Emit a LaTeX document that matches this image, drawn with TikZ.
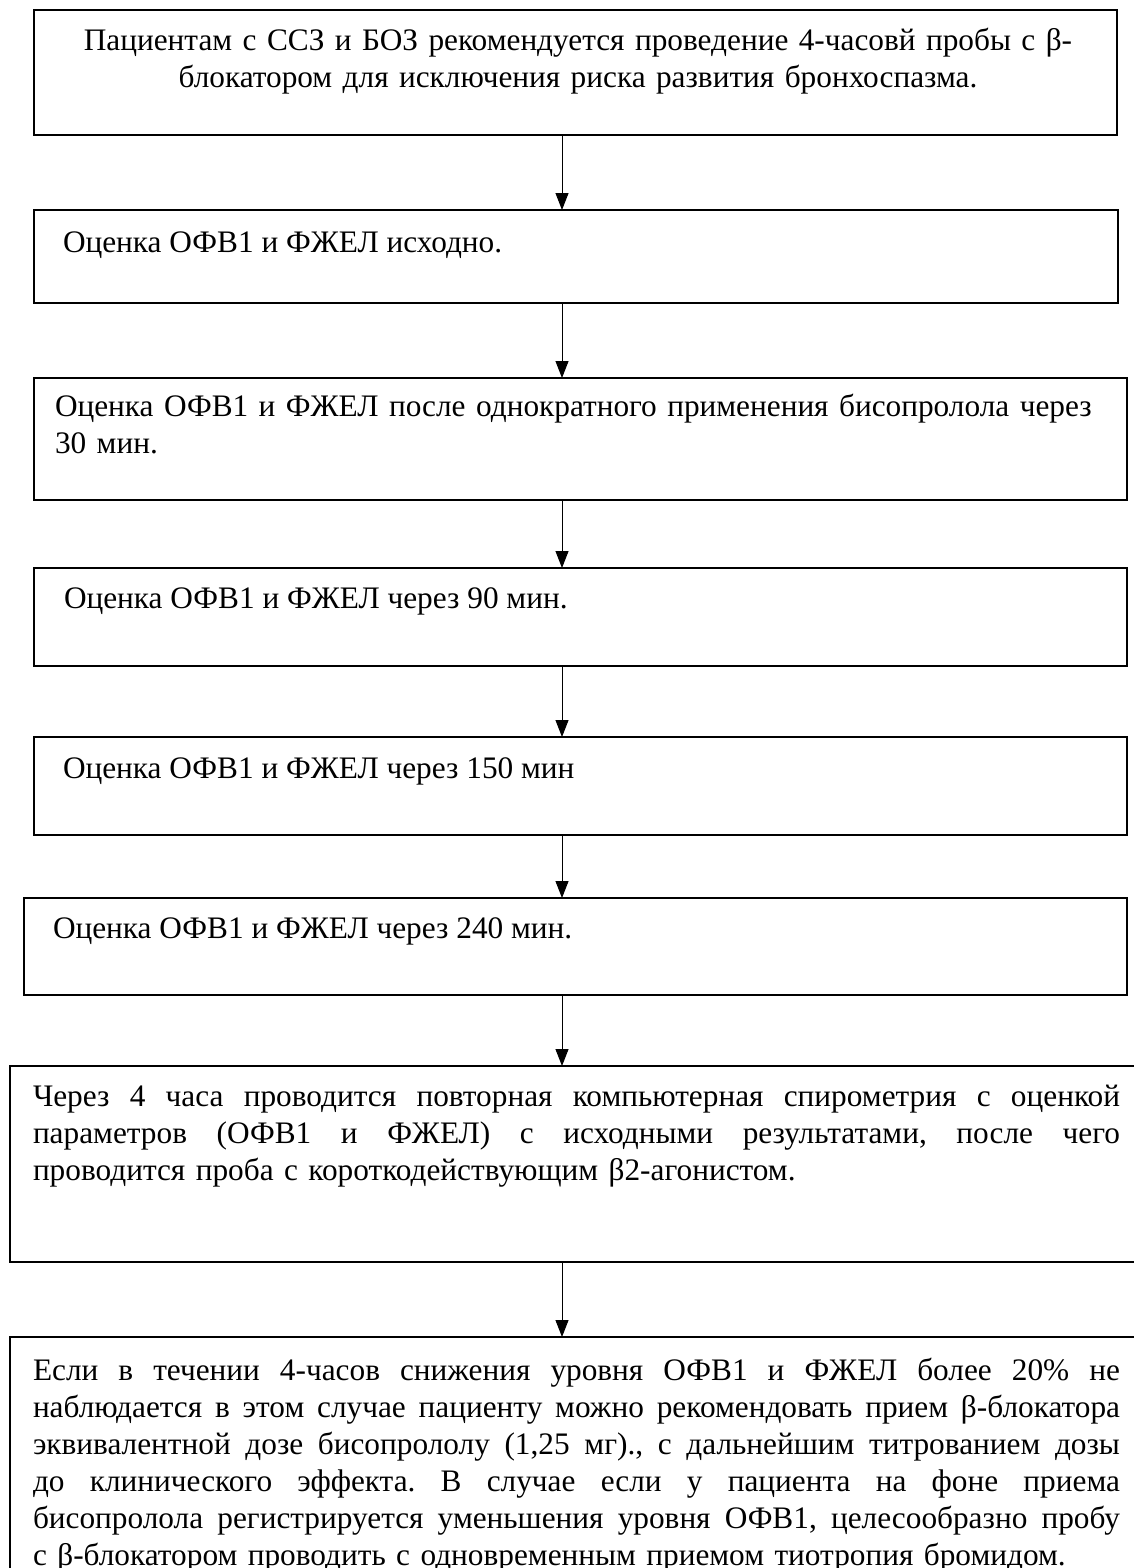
\documentclass[tikz,border=0pt]{standalone}
\usepackage{fontspec}
\setmainfont{Liberation Serif}
\usetikzlibrary{arrows.meta}
\newcommand{\jline}[1]{\leavevmode\hbox to 1087pt{\spaceskip=0.25em plus 1fil minus 0.05em\relax\xspaceskip=\spaceskip #1}}
\begin{document}
\begin{tikzpicture}[x=1pt,y=-1pt,
  box/.style={draw, line width=1.5pt, inner sep=0pt, outer sep=0pt, anchor=north west},
  txt/.style={inner sep=0pt, outer sep=0pt, font=\fontsize{31.3}{37}\selectfont\frenchspacing},
  conn/.style={line width=1pt, -{Triangle[length=17pt,width=13pt]}}]
\useasboundingbox (0,0) rectangle (1134,1568);
\clip (0,0) rectangle (1134,1568);
\fill[white] (0,0) rectangle (1134,1568);

% boxes
\node[box, minimum width=1083pt, minimum height=125pt] (b1) at (34,10) {};
\node[box, minimum width=1084pt, minimum height=93pt]  (b2) at (34,210) {};
\node[box, minimum width=1093pt, minimum height=122pt] (b3) at (34,378) {};
\node[box, minimum width=1093pt, minimum height=98pt]  (b4) at (34,568) {};
\node[box, minimum width=1093pt, minimum height=98pt]  (b5) at (34,737) {};
\node[box, minimum width=1103pt, minimum height=97pt]  (b6) at (24,898) {};
\node[box, minimum width=1140pt, minimum height=196pt] (b7) at (10,1066) {};
\node[box, minimum width=1140pt, minimum height=260pt] (b8) at (10,1337) {};

% texts
\node[txt, text width=1083pt, align=center, anchor=base] (t1) at (578,51)
  {Пациентам с ССЗ и БОЗ рекомендуется проведение 4-часовй пробы с β-\\блокатором для исключения риска развития бронхоспазма.};
\node[txt, anchor=base west] (t2) at (63,252) {Оценка ОФВ1 и ФЖЕЛ исходно.};
\node[txt, text width=1065pt, align=left, anchor=base west] (t3) at (55,416)
  {Оценка ОФВ1 и ФЖЕЛ после однократного применения бисопролола через\\30 мин.};
\node[txt, anchor=base west] (t4) at (64,608) {Оценка ОФВ1 и ФЖЕЛ через 90 мин.};
\node[txt, anchor=base west] (t5) at (63,778) {Оценка ОФВ1 и ФЖЕЛ через 150 мин};
\node[txt, anchor=base west] (t6) at (53,938) {Оценка ОФВ1 и ФЖЕЛ через 240 мин.};
\node[txt, text width=1087pt, align=left, anchor=base west] (t7) at (33,1106)
  {\jline{Через 4 часа проводится повторная компьютерная спирометрия с оценкой}\\
   \jline{параметров (ОФВ1 и ФЖЕЛ) с исходными результатами, после чего}\\
   проводится проба с короткодействующим β2-агонистом.};
\node[txt, text width=1087pt, align=left, anchor=base west] (t8) at (33,1380)
  {\jline{Если в течении 4-часов снижения уровня ОФВ1 и ФЖЕЛ более 20\% не}\\
   \jline{наблюдается в этом случае пациенту можно рекомендовать прием β-блокатора}\\
   \jline{эквивалентной дозе бисопрололу (1,25 мг)., с дальнейшим титрованием дозы}\\
   \jline{до клинического эффекта. В случае если у пациента на фоне приема}\\
   \jline{бисопролола регистрируется уменьшения уровня ОФВ1, целесообразно пробу}\\
   с β-блокатором проводить с одновременным приемом тиотропия бромидом.};

% connectors
\coordinate (ax) at (562,0);
\draw[conn] (b1.south -| ax) -- (b2.north -| ax);
\draw[conn] (b2.south -| ax) -- (b3.north -| ax);
\draw[conn] (b3.south -| ax) -- (b4.north -| ax);
\draw[conn] (b4.south -| ax) -- (b5.north -| ax);
\draw[conn] (b5.south -| ax) -- (b6.north -| ax);
\draw[conn] (b6.south -| ax) -- (b7.north -| ax);
\draw[conn] (b7.south -| ax) -- (b8.north -| ax);
\end{tikzpicture}
\end{document}
